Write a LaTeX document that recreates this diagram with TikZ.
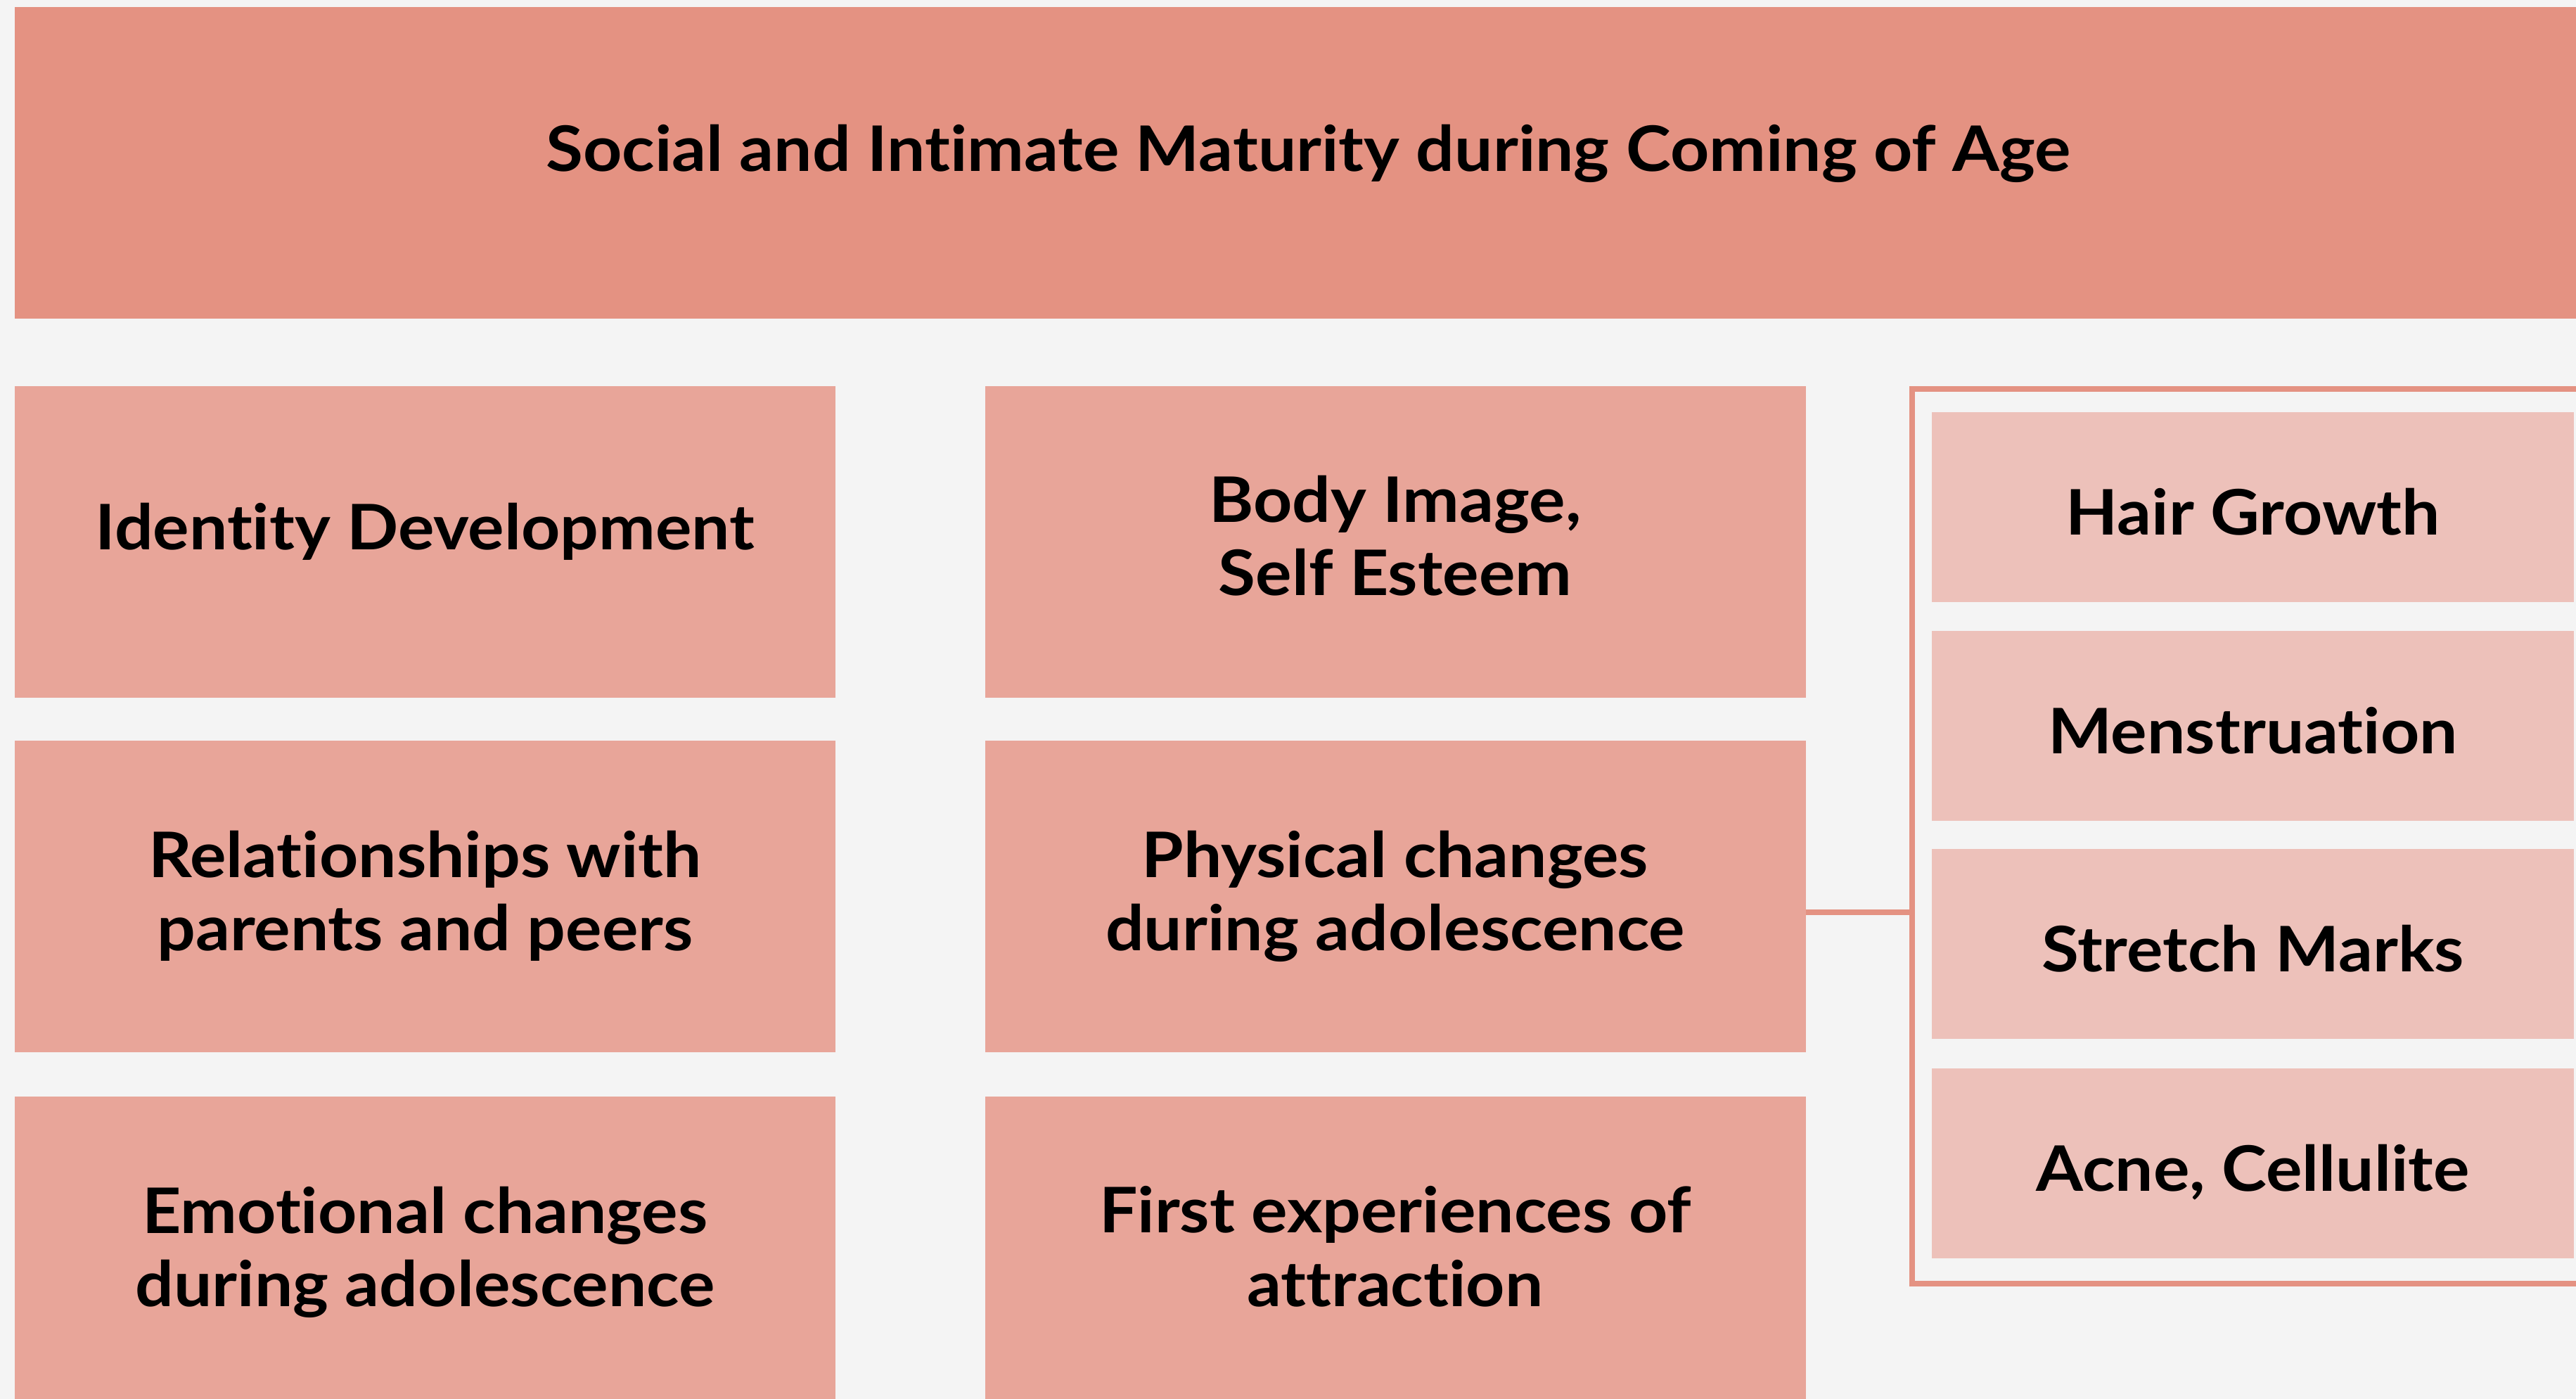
\documentclass[tikz,border=0pt]{standalone}
\usepackage{fontspec}
\setmainfont{Lato}[FakeStretch=1.08,Ligatures=NoCommon]
\definecolor{bgcol}{HTML}{F4F4F4}
\definecolor{headcol}{HTML}{E49282}
\definecolor{topiccol}{HTML}{E8A599}
\definecolor{subcol}{HTML}{EDC1BA}
\begin{document}
\begin{tikzpicture}[x=1cm,y=1cm,
    every node/.style={font=\fontsize{25.4}{29.6}\selectfont\bfseries,align=center,inner sep=0pt,
      execute at end node={\rule[-14pt]{0pt}{0pt}}},
    toph/.style={execute at begin node={\rule{0pt}{#1}}},
    headbox/.style={fill=headcol,minimum width=36.79cm,minimum height=4.43cm,toph=20.8pt},
    topicbox/.style={fill=topiccol,minimum width=11.67cm,minimum height=4.43cm,toph=20.8pt},
    twoline/.style={label={[yshift=-0.16cm]center:#1}},
    subbox/.style={fill=subcol,minimum width=9.13cm,minimum height=2.70cm,toph=36.2pt},
    link/.style={draw=headcol,line width=0.08cm},
    frame/.style={draw=headcol,line width=0.08cm,line join=miter}]
    \clip (0,0) rectangle (36.63,-19.89);
    \fill[bgcol] (0,0) rectangle (36.63,-19.89);
    % heading
    \node[headbox] (head) at (18.605,-2.315) {Social and Intimate Maturity during Coming of Age};
    % left column
    \node[topicbox] (ident) at (6.045,-7.70) {Identity Development};
    \node[topicbox,twoline={Relationships with\\parents and peers}] (relat) at (6.045,-12.745) {};
    \node[topicbox,twoline={Emotional changes\\during adolescence}] (emot) at (6.045,-17.805) {};
    % middle column
    \node[topicbox,twoline={Body Image,\\Self Esteem}] (body) at (19.84,-7.70) {};
    \node[topicbox,twoline={Physical changes\\during adolescence}] (phys) at (19.84,-12.745) {};
    \node[topicbox,twoline={First experiences of\\attraction}] (attr) at (19.84,-17.805) {};
    % physical changes group
    \coordinate (gtop) at (27.19,-5.53);
    \coordinate (gbot) at (27.19,-18.25);
    \coordinate (j) at (27.19,-12.97);
    \draw[frame] (37,-5.53) -- (gtop) -- (gbot) -- (37,-18.25);
    \draw[link] (phys.east |- j) -- (j);
    \node[subbox] (hair) at (32.035,-7.21) {Hair Growth};
    \node[subbox] (mens) at (32.035,-10.32) {Menstruation};
    \node[subbox] (strm) at (32.035,-13.42) {Stretch Marks};
    \node[subbox] (acne) at (32.035,-16.54) {Acne, Cellulite};
\end{tikzpicture}
\end{document}
